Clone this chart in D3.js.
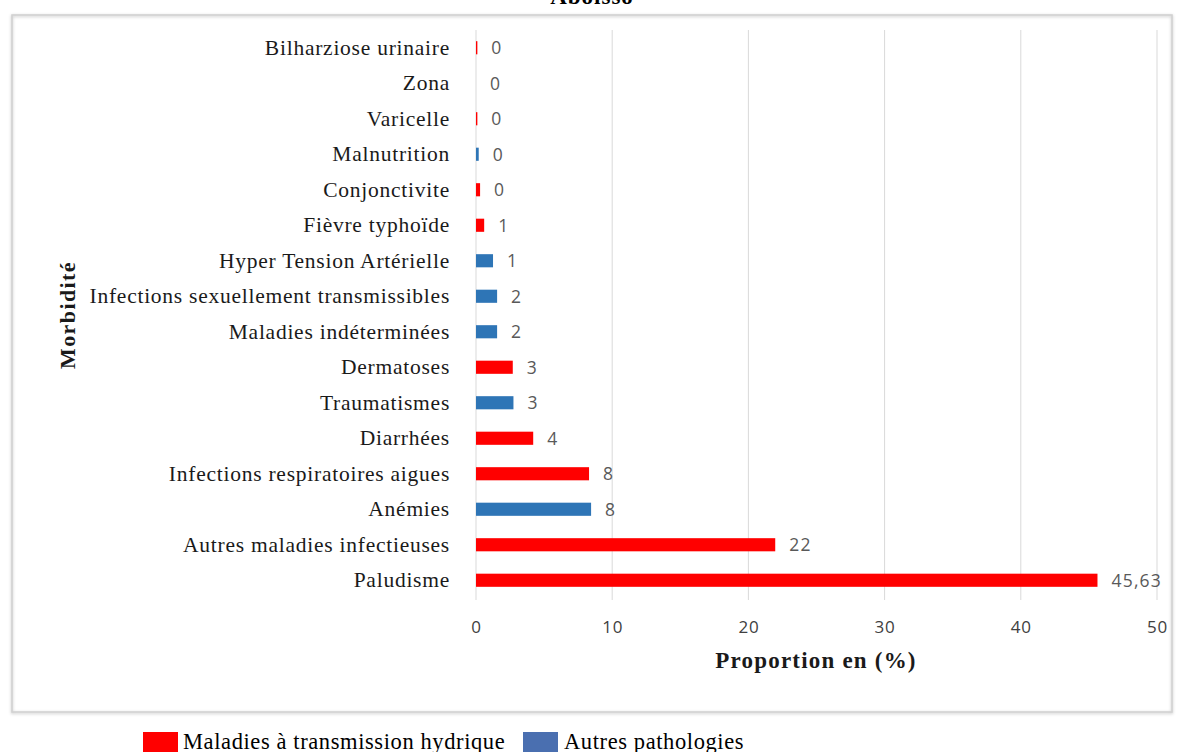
<!DOCTYPE html>
<html>
<head>
<meta charset="utf-8">
<script src="https://cdn.jsdelivr.net/npm/d3@7"></script>
<style>
  html, body { margin: 0; padding: 0; background: #fff; }
  svg { display: block; }
</style>
</head>
<body>
<svg id="chart" width="1184" height="752"></svg>
<script>
// Morbidity categories, top to bottom
const categories = [
  "Bilharziose urinaire", "Zona", "Varicelle", "Malnutrition", "Conjonctivite",
  "Fièvre typhoïde", "Hyper Tension Artérielle", "Infections sexuellement transmissibles",
  "Maladies indéterminées", "Dermatoses", "Traumatismes", "Diarrhées",
  "Infections respiratoires aigues", "Anémies", "Autres maladies infectieuses", "Paludisme"
];
// Proportion (%) per category
const values = [0.1, 0, 0.1, 0.2, 0.3, 0.6, 1.25, 1.55, 1.55, 2.7, 2.75, 4.2, 8.3, 8.45, 21.97, 45.63];
// Group of each category: "h" = waterborne diseases, "a" = other pathologies
const groups = ["h", "h", "h", "a", "h", "h", "a", "a", "a", "h", "a", "h", "h", "a", "h", "h"];
const xTicks = [0, 10, 20, 30, 40, 50];
const legendLabels = { h: "Maladies à transmission hydrique", a: "Autres pathologies" };

const barColor = { h: "#ff0000", a: "#2e75b6" };
const legendColor = { h: "#ff0000", a: "#4a6fb0" };

const serif = "Liberation Serif, Times New Roman, serif";
const sans = "Open Sans, Liberation Sans, sans-serif";

const svg = d3.select("#chart");

// Frame around the plot
svg.append("rect")
  .attr("x", 12).attr("y", 15).attr("width", 1160).attr("height", 697)
  .attr("fill", "none").attr("stroke", "#d0d0d0").attr("stroke-width", 1.5)
  .style("filter", "drop-shadow(0px 1px 1.5px rgba(0,0,0,0.25))");

// Title (partly above the page edge)
svg.append("text")
  .attr("x", 592).attr("y", 4)
  .attr("text-anchor", "middle")
  .attr("font-family", serif)
  .attr("font-weight", "bold").attr("font-size", 23)
  .attr("letter-spacing", 1)
  .attr("fill", "#000")
  .text("Aboisso");

const x = d3.scaleLinear().domain([0, 50]).range([476, 1157]);
const y = d3.scaleBand().domain(categories).range([30, 598]).paddingInner(0.63).paddingOuter(0.315);

// Vertical gridlines
svg.append("g").selectAll("line")
  .data(xTicks)
  .join("line")
  .attr("x1", d => x(d)).attr("x2", d => x(d))
  .attr("y1", 30).attr("y2", 600)
  .attr("stroke", "#d9d9d9").attr("stroke-width", 1);

// Bars
svg.append("g").selectAll("rect")
  .data(categories)
  .join("rect")
  .attr("x", x(0))
  .attr("y", d => y(d))
  .attr("width", (d, i) => x(values[i]) - x(0))
  .attr("height", y.bandwidth())
  .attr("fill", (d, i) => barColor[groups[i]]);

// Value labels: whole numbers, two decimals with a comma for the largest share
const fmt = v => v < 40 ? d3.format(".0f")(v) : d3.format(".2f")(v).replace(".", ",");
svg.append("g").selectAll("text")
  .data(categories)
  .join("text")
  .attr("x", (d, i) => x(values[i]) + 14)
  .attr("y", d => y(d) + y.bandwidth() / 2)
  .attr("dy", "0.36em")
  .attr("font-family", sans)
  .attr("font-size", 17.5)
  .attr("letter-spacing", 1.2)
  .attr("fill", "#595959")
  .text((d, i) => fmt(values[i]));

// Category axis labels
const yAxis = d3.axisLeft(y).tickSize(0).tickPadding(0);
const gy = svg.append("g").attr("transform", "translate(450,0)").call(yAxis);
gy.select(".domain").remove();
gy.selectAll("text")
  .attr("font-family", serif)
  .attr("font-size", 21.5)
  .attr("letter-spacing", 0.75)
  .attr("fill", "#1a1a1a");

// Value axis
const xAxis = d3.axisBottom(x).tickValues(xTicks).tickSize(0).tickPadding(0).tickFormat(d3.format("d"));
const gx = svg.append("g").attr("transform", "translate(0,621)").call(xAxis);
gx.select(".domain").remove();
gx.selectAll("text")
  .attr("font-family", sans)
  .attr("font-size", 17)
  .attr("letter-spacing", 0.8)
  .attr("fill", "#404040");

// Axis titles
svg.append("text")
  .attr("x", 816).attr("y", 668)
  .attr("text-anchor", "middle")
  .attr("font-family", serif)
  .attr("font-weight", "bold").attr("font-size", 23)
  .attr("letter-spacing", 1.2)
  .attr("fill", "#1a1a1a")
  .text("Proportion en (%)");

svg.append("text")
  .attr("transform", "translate(75,315) rotate(-90)")
  .attr("text-anchor", "middle")
  .attr("font-family", serif)
  .attr("font-weight", "bold").attr("font-size", 22)
  .attr("letter-spacing", 1.4)
  .attr("fill", "#1a1a1a")
  .text("Morbidité");

// Legend
const legendItems = [
  { key: "h", x: 143, tx: 183 },
  { key: "a", x: 523, tx: 564 }
];
const lg = svg.append("g");
lg.selectAll("rect")
  .data(legendItems)
  .join("rect")
  .attr("x", d => d.x).attr("y", 732)
  .attr("width", 35).attr("height", 22)
  .attr("fill", d => legendColor[d.key]);
lg.selectAll("text")
  .data(legendItems)
  .join("text")
  .attr("x", d => d.tx).attr("y", 749)
  .attr("font-family", serif)
  .attr("font-size", 22.5)
  .attr("letter-spacing", 0.6)
  .attr("fill", "#000")
  .text(d => legendLabels[d.key]);
</script>
</body>
</html>
